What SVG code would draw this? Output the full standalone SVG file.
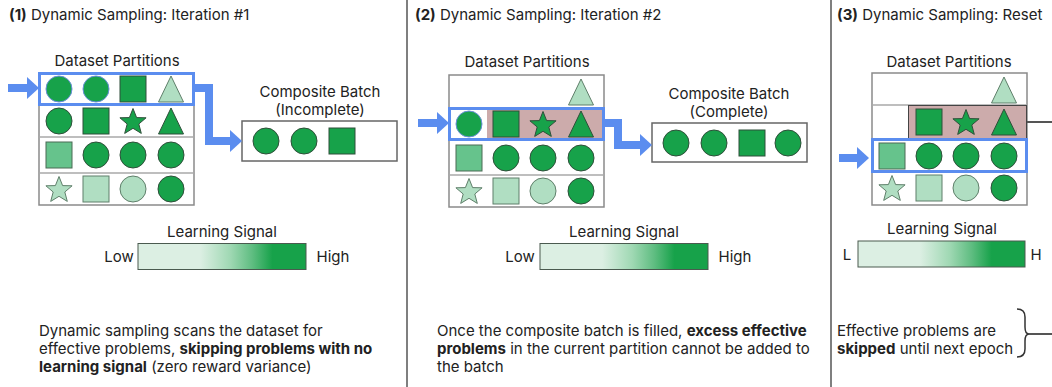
<svg xmlns="http://www.w3.org/2000/svg" xmlns:xlink="http://www.w3.org/1999/xlink" width="1052" height="387" viewBox="0 0 1052 387">
<style>
text{font-family:Inter,"Liberation Sans",sans-serif;fill:#222;}
.title{font-size:15px;}
.lbl{font-size:15px;text-anchor:middle;}
.desc{font-size:15px;}
.b{font-weight:700;}
.dk{fill:#17a24a;stroke:#2f4f3a;stroke-width:1;}
.md{fill:#66c38c;stroke:#4a6a55;stroke-width:1;}
.lt{fill:#b0dec2;stroke:#5f7f6a;stroke-width:1;}
.sel{stroke:#6a8fd8;}
.grid{fill:#fff;stroke:#8a8a8a;stroke-width:1.5;}
.rowline{stroke:#a8a8a8;stroke-width:1.5;}
.hl{fill:none;stroke:#5b8def;stroke-width:3;}
.pink{fill:#ccabab;}
.box{fill:#fff;stroke:#666;stroke-width:1.5;}
.arrow{fill:none;stroke:#5b8def;stroke-width:8;stroke-linejoin:miter;}
.sep{stroke:#555;stroke-width:1.5;}
.bar{stroke:#4a5a4f;stroke-width:1;}
</style>
<defs>
<circle id="ci" r="13"/>
<rect id="sq" x="-13" y="-13" width="26" height="26"/>
<polygon id="tr" points="0,-13 12.5,13 -12.5,13"/>
<polygon id="st" points="0,-13.5 3.6,-4.4 13.1,-4.2 5.8,2 8.3,11.4 0,6.3 -8.3,11.4 -5.8,2 -13.1,-4.2 -3.6,-4.4"/>
<linearGradient id="grad" x1="0" y1="0" x2="1" y2="0">
<stop offset="0" stop-color="#dcefe3"/>
<stop offset="0.37" stop-color="#dcefe3"/>
<stop offset="0.55" stop-color="#9fd8b3"/>
<stop offset="0.68" stop-color="#5fbd81"/>
<stop offset="0.8" stop-color="#17a24a"/>
<stop offset="1" stop-color="#17a24a"/>
</linearGradient>
<marker id="ah" markerUnits="userSpaceOnUse" markerWidth="12" markerHeight="22" viewBox="0 0 12 22" refX="0" refY="11" orient="auto">
<path d="M0,0 L12,11 L0,22 z" fill="#5b8def"/>
</marker>
</defs>

<rect width="1052" height="387" fill="#fff"/>
<line class="sep" x1="407" y1="0" x2="407" y2="387"/>
<line class="sep" x1="831" y1="0" x2="831" y2="387"/>

<!-- Panel 1 -->
<g id="panel1-title"><text class="title" x="9" y="20"><tspan class="b">(1)</tspan> Dynamic Sampling: Iteration #1</text></g>
<g id="panel1-partitions">
<text class="lbl" x="117" y="66">Dataset Partitions</text>
<rect class="grid" x="39" y="73" width="155" height="132"/>
<line class="rowline" x1="39" y1="105" x2="194" y2="105"/>
<line class="rowline" x1="39" y1="137" x2="194" y2="137"/>
<line class="rowline" x1="39" y1="173" x2="194" y2="173"/>
<use href="#ci" x="59" y="89" class="dk sel"/>
<use href="#ci" x="96" y="89" class="dk sel"/>
<use href="#sq" x="133" y="89" class="dk"/>
<use href="#tr" x="171" y="89" class="lt"/>
<use href="#ci" x="59" y="121" class="dk"/>
<use href="#sq" x="96" y="121" class="dk"/>
<use href="#st" x="133" y="122" class="dk"/>
<use href="#tr" x="171" y="121" class="dk"/>
<use href="#sq" x="59" y="155" class="md"/>
<use href="#ci" x="96" y="155" class="dk"/>
<use href="#ci" x="133" y="155" class="dk"/>
<use href="#ci" x="171" y="155" class="dk"/>
<use href="#st" x="59" y="190" class="lt"/>
<use href="#sq" x="96" y="189" class="lt"/>
<use href="#ci" x="133" y="189" class="lt"/>
<use href="#ci" x="171" y="189" class="dk"/>
<rect class="hl" x="39.5" y="73.5" width="154" height="31"/>
</g>
<g id="panel1-batch">
<text class="lbl" x="320" y="97">Composite Batch</text>
<text class="lbl" x="320" y="115">(Incomplete)</text>
<rect class="box" x="242" y="121" width="155" height="40"/>
<use href="#ci" x="266" y="141" class="dk"/>
<use href="#ci" x="304" y="141" class="dk"/>
<use href="#sq" x="342" y="141" class="dk"/>
</g>
<g id="panel1-legend">
<text class="lbl" x="222" y="237">Learning Signal</text>
<rect class="bar" x="138" y="243.5" width="168" height="26" fill="url(#grad)"/>
<text class="lbl" x="119" y="262">Low</text>
<text class="lbl" x="333" y="262">High</text>
</g>
<g id="panel1-desc">
<text class="desc" x="39" y="336">Dynamic sampling scans the dataset for</text>
<text class="desc" x="39" y="354">effective problems, <tspan class="b">skipping problems with no</tspan></text>
<text class="desc" x="39" y="372"><tspan class="b">learning signal</tspan> (zero reward variance)</text>
</g>

<!-- Panel 2 -->
<g id="panel2-title"><text class="title" x="415" y="20"><tspan class="b">(2)</tspan> Dynamic Sampling: Iteration #2</text></g>
<g id="panel2-partitions">
<text class="lbl" x="527" y="67">Dataset Partitions</text>
<rect class="grid" x="449" y="75" width="155" height="132"/>
<rect class="pink" x="487" y="108" width="117" height="32"/>
<line class="rowline" x1="449" y1="108" x2="604" y2="108"/>
<line class="rowline" x1="449" y1="140" x2="604" y2="140"/>
<line class="rowline" x1="449" y1="175" x2="604" y2="175"/>
<use href="#tr" x="581" y="92" class="lt"/>
<use href="#ci" x="469" y="124" class="dk sel"/>
<use href="#sq" x="506" y="124" class="dk"/>
<use href="#st" x="543" y="125" class="dk"/>
<use href="#tr" x="581" y="124" class="dk"/>
<use href="#sq" x="469" y="158" class="md"/>
<use href="#ci" x="506" y="158" class="dk"/>
<use href="#ci" x="543" y="158" class="dk"/>
<use href="#ci" x="581" y="158" class="dk"/>
<use href="#st" x="469" y="192" class="lt"/>
<use href="#sq" x="506" y="191" class="lt"/>
<use href="#ci" x="543" y="191" class="lt"/>
<use href="#ci" x="581" y="191" class="dk"/>
<rect class="hl" x="449.5" y="108.5" width="154" height="31"/>
</g>
<g id="panel2-batch">
<text class="lbl" x="729" y="99">Composite Batch</text>
<text class="lbl" x="729" y="117">(Complete)</text>
<rect class="box" x="652" y="123" width="155" height="39"/>
<use href="#ci" x="676" y="143" class="dk"/>
<use href="#ci" x="714" y="143" class="dk"/>
<use href="#sq" x="752" y="143" class="dk"/>
<use href="#ci" x="788" y="143" class="dk"/>
</g>
<g id="panel2-legend">
<text class="lbl" x="624" y="237">Learning Signal</text>
<rect class="bar" x="540" y="243.5" width="168" height="26" fill="url(#grad)"/>
<text class="lbl" x="520" y="262">Low</text>
<text class="lbl" x="735" y="262">High</text>
</g>
<g id="panel2-desc">
<text class="desc" x="437" y="336">Once the composite batch is filled, <tspan class="b">excess effective</tspan></text>
<text class="desc" x="437" y="354"><tspan class="b">problems</tspan> in the current partition cannot be added to</text>
<text class="desc" x="437" y="372">the batch</text>
</g>

<!-- Panel 3 -->
<g id="panel3-title"><text class="title" x="837" y="20"><tspan class="b">(3)</tspan> Dynamic Sampling: Reset</text></g>
<g id="panel3-partitions">
<text class="lbl" x="949" y="67">Dataset Partitions</text>
<rect class="grid" x="872" y="73" width="155" height="132"/>
<line class="rowline" x1="872" y1="105" x2="1027" y2="105"/>
<line class="rowline" x1="872" y1="139" x2="1027" y2="139"/>
<line class="rowline" x1="872" y1="172" x2="1027" y2="172"/>
<rect class="pink" x="908.5" y="105.5" width="118" height="33" stroke="#444" stroke-width="1"/>
<use href="#tr" x="1004" y="90" class="lt"/>
<use href="#sq" x="929" y="122" class="dk"/>
<use href="#st" x="966" y="123" class="dk"/>
<use href="#tr" x="1004" y="122" class="dk"/>
<use href="#sq" x="892" y="156" class="md"/>
<use href="#ci" x="929" y="156" class="dk"/>
<use href="#ci" x="966" y="156" class="dk"/>
<use href="#ci" x="1004" y="156" class="dk"/>
<use href="#st" x="892" y="189" class="lt"/>
<use href="#sq" x="929" y="188" class="lt"/>
<use href="#ci" x="966" y="188" class="lt"/>
<use href="#ci" x="1004" y="188" class="dk"/>
<rect class="hl" x="872.5" y="139.5" width="154" height="32"/>
</g>
<g id="panel3-legend">
<text class="lbl" x="942" y="234">Learning Signal</text>
<rect class="bar" x="858" y="241" width="167" height="26" fill="url(#grad)"/>
<text class="lbl" x="847" y="260">L</text>
<text class="lbl" x="1036" y="260">H</text>
</g>
<g id="panel3-desc">
<text class="desc" x="837" y="336">Effective problems are</text>
<text class="desc" x="837" y="354"><tspan class="b">skipped</tspan> until next epoch</text>
</g>

<!-- Connectors -->
<g id="connectors">
<path class="arrow" d="M8,88 H27" marker-end="url(#ah)"/>
<path class="arrow" d="M194,88 H209 V141 H230" marker-end="url(#ah)"/>
<path class="arrow" d="M418,123 H437" marker-end="url(#ah)"/>
<path class="arrow" d="M604,123 H618 V145 H640" marker-end="url(#ah)"/>
<path class="arrow" d="M839,158 H857" marker-end="url(#ah)"/>
<line x1="1027" y1="122" x2="1052" y2="122" stroke="#555" stroke-width="2"/>
<path d="M1017,309 Q1025,309 1025,317 V327 Q1025,334 1029,334 Q1025,334 1025,341 V349 Q1025,357 1017,357" fill="none" stroke="#333" stroke-width="1.5"/>
<line x1="1029" y1="334" x2="1052" y2="334" stroke="#555" stroke-width="2"/>
</g>
</svg>
